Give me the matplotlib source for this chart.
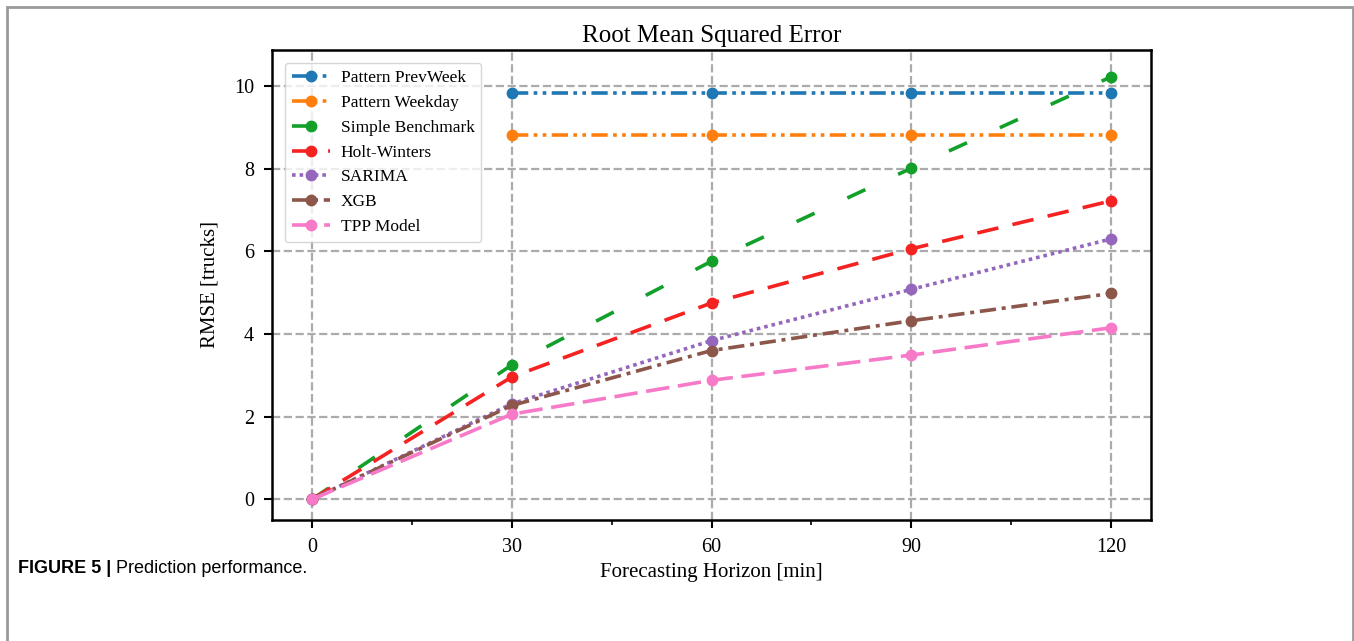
import matplotlib
matplotlib.use("Agg")
import matplotlib.pyplot as plt
from matplotlib.patches import Rectangle
from matplotlib.ticker import MultipleLocator

horizon_full = [0, 30, 60, 90, 120]
horizon_pat = [30, 60, 90, 120]

prevweek = [9.82, 9.82, 9.82, 9.82]
weekday = [8.81, 8.81, 8.81, 8.81]
simple = [0.0, 3.25, 5.76, 8.01, 10.22]
holt = [0.0, 2.96, 4.75, 6.06, 7.22]
sarima = [0.0, 2.31, 3.84, 5.08, 6.30]
xgb = [0.0, 2.27, 3.60, 4.32, 4.98]
tpp = [0.0, 2.06, 2.88, 3.49, 4.15]

labels = ["Pattern PrevWeek", "Pattern Weekday", "Simple Benchmark",
          "Holt-Winters", "SARIMA", "XGB", "TPP Model"]

plt.rcParams['font.family'] = ['Liberation Serif', 'DejaVu Serif']

fig = plt.figure(figsize=(13.54, 6.41), dpi=100)
ax = fig.add_axes([272/1354, 1-520/641, (1151-272)/1354, (520-50)/641])

lw = 2.6
ms = 7.5
series = [
    (horizon_pat, prevweek, '#1f77b4', (0, (4.5, 1.5, 1, 1.5, 1, 1.5))),
    (horizon_pat, weekday, '#ff7f0e', (0, (4.5, 1.5, 1, 1.5, 1, 1.5))),
    (horizon_full, simple, '#13a02a', (0, (5.5, 10))),
    (horizon_full, holt, '#f52222', (0, (6, 4))),
    (horizon_full, sarima, '#9467bd', (0, (1, 1.1))),
    (horizon_full, xgb, '#8c564b', (0, (4.5, 1.6, 1.1, 1.6))),
    (horizon_full, tpp, '#f77ac8', (0, (6.5, 2.4))),
]
for (x, y, c, ls), lab in zip(series, labels):
    ax.plot(x, y, color=c, linestyle=ls, linewidth=lw, marker='o',
            markersize=ms, label=lab)

ax.set_xlim(-6, 126)
ax.set_ylim(-0.5, 10.87)
ax.xaxis.set_major_locator(MultipleLocator(30))
ax.xaxis.set_minor_locator(MultipleLocator(15))
ax.yaxis.set_major_locator(MultipleLocator(2))
ax.grid(True, which='major', linestyle='--', color='#ababab', linewidth=1.6)
ax.set_axisbelow(True)
ax.tick_params(axis='both', which='major', labelsize=14.5, length=6, width=1.5, pad=7)
ax.tick_params(axis='x', which='minor', length=3.5, width=1.2)
for s in ax.spines.values():
    s.set_linewidth(1.8)
ax.set_xlabel('Forecasting Horizon [min]', fontsize=15, labelpad=4)
ax.set_ylabel('RMSE [trucks]', fontsize=15, labelpad=10)
ax.set_title('Root Mean Squared Error', fontsize=18, pad=6)

leg = ax.legend(loc='upper left', fontsize=12.5, framealpha=0.8,
                handlelength=2.2, handletextpad=0.6, borderaxespad=0.75,
                labelspacing=0.5)

# figure frame
fig.add_artist(Rectangle((7/1354, -0.05), (1353-7)/1354, 1.05 - 7/641,
                         transform=fig.transFigure, fill=False,
                         edgecolor='#9a9a9a', linewidth=2.0))

t1 = fig.text(18/1354, 1-573/641, 'FIGURE 5 |', fontsize=13, fontweight='bold',
              family=['Liberation Sans', 'DejaVu Sans'], va='baseline')
fig.canvas.draw()
bb = t1.get_window_extent(fig.canvas.get_renderer())
fig.text((bb.x1 + 5)/1354, 1-573/641, 'Prediction performance.', fontsize=13,
         family=['Liberation Sans', 'DejaVu Sans'], va='baseline')

fig.savefig('out.png', dpi=100)
